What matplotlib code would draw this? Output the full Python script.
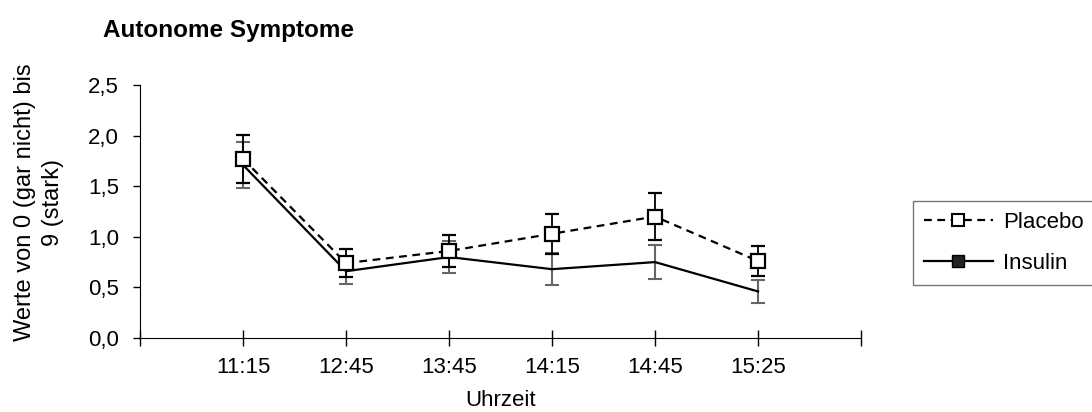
import matplotlib.pyplot as plt
from matplotlib.lines import Line2D

plt.rcParams['font.family'] = ['Liberation Sans', 'DejaVu Sans']

zeiten = ["11:15", "12:45", "13:45", "14:15", "14:45", "15:25"]
placebo = [1.77, 0.74, 0.86, 1.03, 1.20, 0.76]
placebo_err = [0.24, 0.14, 0.16, 0.20, 0.23, 0.15]
insulin = [1.71, 0.66, 0.80, 0.68, 0.75, 0.46]
insulin_err = [0.23, 0.13, 0.16, 0.16, 0.17, 0.11]

fig = plt.figure(figsize=(10.92, 4.12), dpi=100)
ax = fig.add_axes([0.1282, 0.1796, 0.6603, 0.6141])

x = list(range(len(zeiten)))

# Insulin first so the gray bars sit behind
ax.errorbar(x, insulin, yerr=insulin_err, color='black', lw=1.6,
            ecolor='#666666', elinewidth=1.5, capsize=4.7, capthick=1.5, zorder=2)
ax.errorbar(x, placebo, yerr=placebo_err, color='black', lw=1.6, ls=(0, (3.5, 2.5)),
            marker='s', markersize=9.5, markerfacecolor='white', markeredgecolor='black',
            markeredgewidth=1.6, ecolor='black', elinewidth=1.3, capsize=4.7, capthick=1.3,
            zorder=3)

ax.set_xlim(-1, 6)
ax.set_ylim(0, 2.5)
ax.set_xticks(range(-1, 7))
ax.set_xticklabels([""] + zeiten + [""], fontsize=16)
ax.set_yticks([0, 0.5, 1.0, 1.5, 2.0, 2.5])
ax.set_yticklabels(["0,0", "0,5", "1,0", "1,5", "2,0", "2,5"], fontsize=16)
ax.tick_params(axis='x', direction='inout', length=12, width=1, pad=8)
ax.tick_params(axis='y', direction='out', length=5, width=1, pad=10)
ax.spines['top'].set_visible(False)
ax.spines['right'].set_visible(False)

ax.set_xlabel("Uhrzeit", fontsize=16, labelpad=8)
ax.set_ylabel("Werte von 0 (gar nicht) bis\n9 (stark)", fontsize=17, linespacing=1.3)
ax.yaxis.set_label_coords(-0.106, 0.537)

fig.text(103 / 1092, 1 - 31 / 412, "Autonome Symptome", fontsize=17.5, fontweight='bold',
         ha='left', va='center')

handles = [
    Line2D([], [], color='black', lw=1.6, ls=(0, (3.5, 2.5)), marker='s', markersize=8,
           markerfacecolor='white', markeredgecolor='black', markeredgewidth=1.5),
    Line2D([], [], color='black', lw=1.6, marker='s', markersize=8,
           markerfacecolor='#222222', markeredgecolor='black'),
]
leg = fig.legend(handles, ["Placebo", "Insulin"], loc='upper left',
                 bbox_to_anchor=(912.7 / 1092, 1 - 200.7 / 412), fontsize=16,
                 frameon=True, fancybox=False, handlelength=3.1, handletextpad=0.45,
                 labelspacing=0.9, borderpad=0.5, borderaxespad=0)
leg.get_frame().set_edgecolor('#555555')
leg.get_frame().set_linewidth(1)

fig.savefig("out.png", dpi=100)
